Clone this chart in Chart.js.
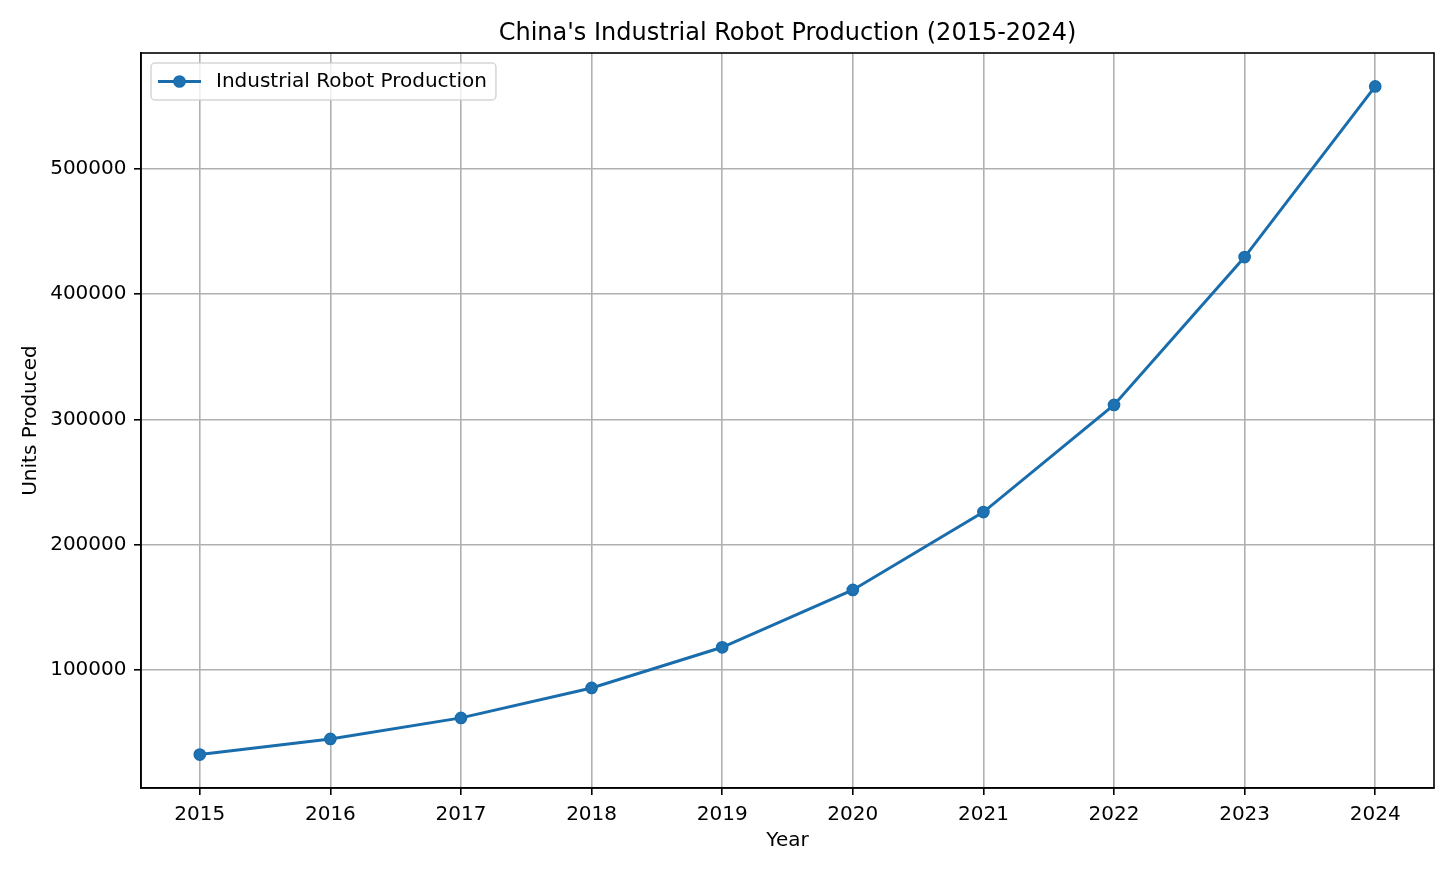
<!DOCTYPE html>
<html>
<head>
<meta charset="utf-8">
<title>China's Industrial Robot Production (2015-2024)</title>
<script src="https://cdn.jsdelivr.net/npm/chart.js@4.4.1/dist/chart.umd.min.js"></script>
<style>
  html, body { margin: 0; padding: 0; background: #fff; }
  canvas { display: block; }
</style>
</head>
<body>
<canvas id="robotChart" width="1456" height="874"></canvas>
<script>
// ===== DATA =====
const years = [2015, 2016, 2017, 2018, 2019, 2020, 2021, 2022, 2023, 2024];
const production = [32400, 44900, 61700, 85600, 118100, 163900, 226100, 311600, 429700, 566000];
const yTicks = [100000, 200000, 300000, 400000, 500000];
const seriesLabel = 'Industrial Robot Production';
const chartTitle = "China's Industrial Robot Production (2015-2024)";

// ===== STYLE =====
const FONT = 'DejaVu Sans';
const BLUE = '#1a6dac';
const GRID = '#b0b0b0';

Chart.defaults.font.family = FONT;
Chart.defaults.color = '#000';

// matplotlib-like 5% margins around the data
const xMargin = (years[years.length - 1] - years[0]) * 0.05;
const yLo = Math.min(...production);
const yHi = Math.max(...production);
const yMargin = (yHi - yLo) * 0.05;

// ===== PLUGINS =====

// full box around the axes (top / right spines too)
const frameBorder = {
  id: 'frameBorder',
  afterDatasetsDraw(chart) {
    const { ctx, chartArea: a } = chart;
    ctx.save();
    ctx.strokeStyle = '#000';
    ctx.lineWidth = 1.6;
    ctx.strokeRect(a.left, a.top, a.right - a.left, a.bottom - a.top);
    ctx.restore();
  }
};

// legend box with line + marker handle, upper left
const boxLegend = {
  id: 'boxLegend',
  afterDraw(chart) {
    const { ctx, chartArea: a } = chart;
    const ds = chart.data.datasets[0];
    ctx.save();
    ctx.font = '20px "' + FONT + '"';
    const textW = ctx.measureText(ds.label).width;
    const x = a.left + 10;
    const y = a.top + 10;
    const w = 8 + 40 + 16 + textW + 10;
    const h = 37;

    ctx.beginPath();
    ctx.roundRect(x, y, w, h, 4);
    ctx.fillStyle = 'rgba(255,255,255,0.8)';
    ctx.fill();
    ctx.strokeStyle = 'rgba(204,204,204,0.8)';
    ctx.lineWidth = 1.5;
    ctx.stroke();

    const cy = y + h / 2;
    ctx.beginPath();
    ctx.moveTo(x + 7, cy);
    ctx.lineTo(x + 50, cy);
    ctx.strokeStyle = ds.borderColor;
    ctx.lineWidth = ds.borderWidth;
    ctx.stroke();

    ctx.beginPath();
    ctx.arc(x + 28.5, cy, ds.pointRadius, 0, Math.PI * 2);
    ctx.fillStyle = ds.pointBackgroundColor;
    ctx.fill();
    ctx.lineWidth = ds.pointBorderWidth;
    ctx.strokeStyle = ds.pointBorderColor;
    ctx.stroke();

    ctx.fillStyle = '#000';
    ctx.textBaseline = 'middle';
    ctx.textAlign = 'left';
    ctx.fillText(ds.label, x + 65, cy + 0.5);
    ctx.restore();
  }
};

// ===== CHART =====
const ctx = document.getElementById('robotChart');

new Chart(ctx, {
  type: 'line',
  data: {
    datasets: [{
      label: seriesLabel,
      data: years.map((yr, i) => ({ x: yr, y: production[i] })),
      borderColor: BLUE,
      backgroundColor: BLUE,
      borderWidth: 3,
      pointRadius: 5.6,
      pointBorderWidth: 1.5,
      pointBackgroundColor: '#1f72b2',
      pointBorderColor: BLUE,
      tension: 0,
      fill: false
    }]
  },
  options: {
    responsive: false,
    animation: false,
    events: [],
    layout: {
      padding: { left: 0, right: 22, top: 0, bottom: 0 }
    },
    plugins: {
      legend: { display: false },
      tooltip: { enabled: false },
      title: {
        display: true,
        text: chartTitle,
        fullSize: false,
        color: '#000',
        font: { family: FONT, size: 24, weight: 'normal' },
        padding: { top: 19.6, bottom: 4.6 }
      }
    },
    scales: {
      x: {
        type: 'linear',
        min: years[0] - xMargin,
        max: years[years.length - 1] + xMargin,
        afterBuildTicks: scale => {
          scale.ticks = years.map(v => ({ value: v }));
        },
        afterFit: scale => {
          scale.height = 86;
        },
        ticks: {
          color: '#000',
          font: { family: FONT, size: 20 },
          padding: 8,
          maxRotation: 0,
          autoSkip: false,
          callback: v => String(v)
        },
        grid: {
          color: GRID,
          lineWidth: 1.6,
          tickColor: '#000',
          tickLength: 7,
          tickWidth: 1.6
        },
        border: { display: true, color: '#000', width: 1.6 },
        title: {
          display: true,
          text: 'Year',
          color: '#000',
          font: { family: FONT, size: 20 },
          padding: { top: 0, bottom: 21 }
        }
      },
      y: {
        type: 'linear',
        min: yLo - yMargin,
        max: yHi + yMargin,
        afterBuildTicks: scale => {
          scale.ticks = yTicks.map(v => ({ value: v }));
        },
        afterFit: scale => {
          scale.width = 141;
        },
        ticks: {
          color: '#000',
          font: { family: FONT, size: 20 },
          padding: 7.5,
          autoSkip: false,
          callback: v => String(v)
        },
        grid: {
          color: GRID,
          lineWidth: 1.6,
          tickColor: '#000',
          tickLength: 7,
          tickWidth: 1.6
        },
        border: { display: true, color: '#000', width: 1.6 },
        title: {
          display: true,
          text: 'Units Produced',
          color: '#000',
          font: { family: FONT, size: 20 },
          padding: { top: 19, bottom: 0 }
        }
      }
    }
  },
  plugins: [frameBorder, boxLegend]
});
</script>
</body>
</html>
